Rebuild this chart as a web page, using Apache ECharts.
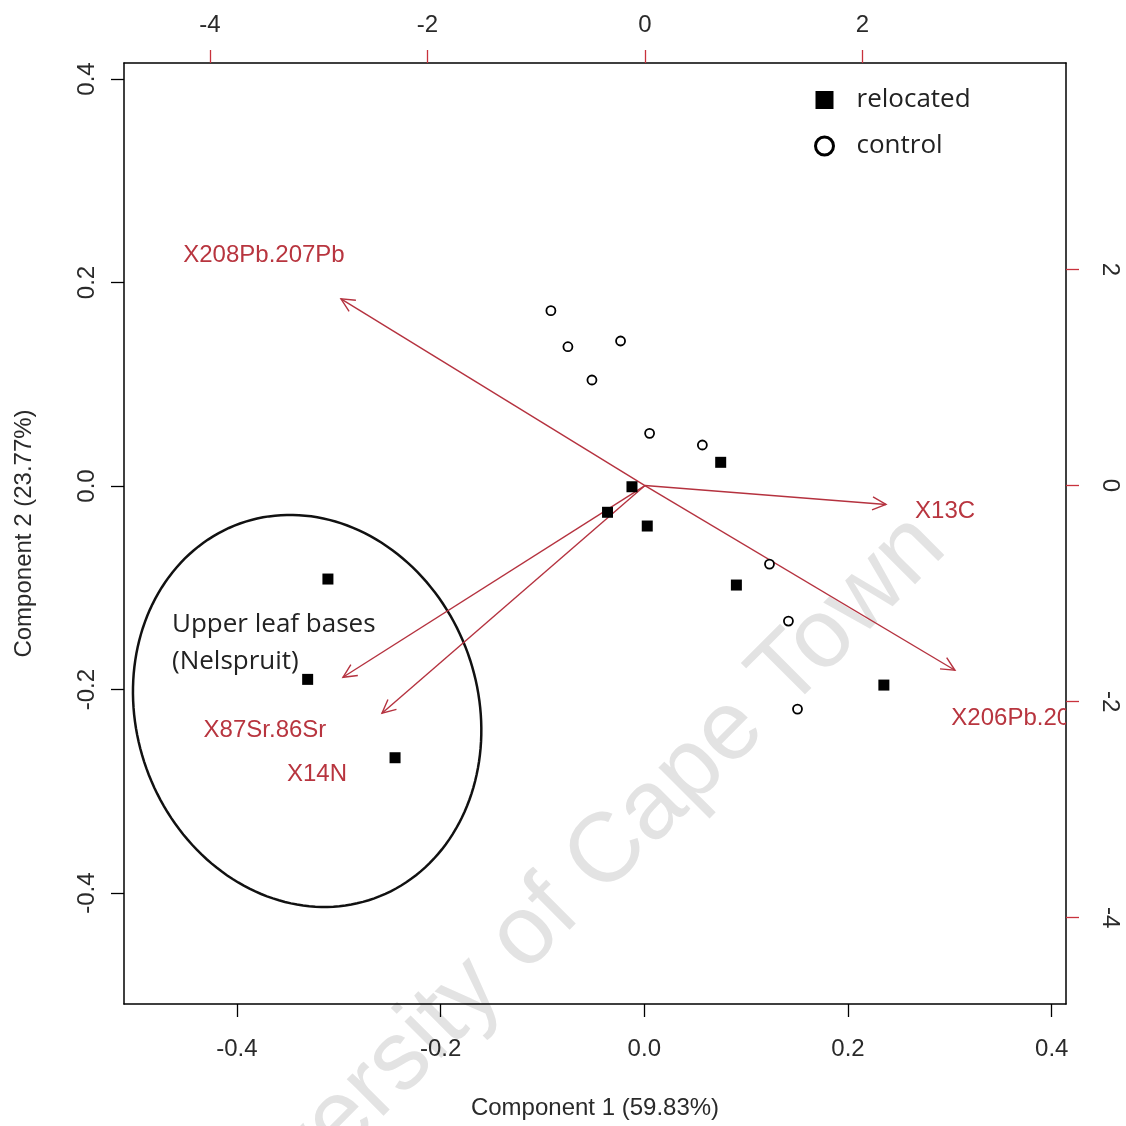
<!DOCTYPE html>
<html><head><meta charset="utf-8">
<script src="https://cdn.jsdelivr.net/npm/echarts@6/dist/echarts.min.js"></script>
<style>html,body{margin:0;padding:0;background:#fff}#c{width:1126px;height:1126px}</style>
</head><body><div id="c"></div>
<script>
// ---- data ----
const relocatedX = [-0.3106, -0.3305, -0.2447, -0.0121, -0.0361, 0.0029, 0.0750, 0.0904, 0.2352];
const relocatedY = [-0.0914, -0.1900, -0.2670, -0.0007, -0.0258, -0.0393, 0.0233, -0.0973, -0.1956];
const controlX = [-0.0917, -0.0750, -0.0233, -0.0514, 0.0052, 0.0570, 0.1229, 0.1415, 0.1504];
const controlY = [0.1723, 0.1369, 0.1425, 0.1042, 0.0518, 0.0403, -0.0767, -0.1327, -0.2192];
const loadingNames = ['X208Pb.207Pb', 'X13C', 'X206Pb.207Pb', 'X87Sr.86Sr', 'X14N'];
const loadingX = [-2.795, 2.216, 2.850, -2.777, -2.418];
const loadingY = [1.729, -0.175, -1.710, -1.775, -2.108];
const loadingLabelX = [-3.503, 2.759, 3.559, -3.494, -3.016];
const loadingLabelY = [2.133, -0.239, -2.152, -2.263, -2.678];
const bottomTicks = [-0.4, -0.2, 0, 0.2, 0.4];
const leftTicks = [-0.4, -0.2, 0, 0.2, 0.4];
const topTicks = [-4, -2, 0, 2];
const rightTicks = [-4, -2, 0, 2];
const ellipseCenter = [-0.331, -0.221];
const ellipseRadii = [0.1676, 0.1956];
const ellipseAngleDeg = [19.7];
const groupNote = 'Upper leaf bases\n(Nelspruit)';
const watermark = 'University of Cape Town';

const arrowColor = '#b5323f';
const labelColor = '#b8353f';
const tickRed = '#c8323c';
const axisFont = 'Liberation Sans';

const chart = echarts.init(document.getElementById('c'), null, {renderer: 'canvas'});

function axisBase(extra) {
  return Object.assign({
    type: 'value',
    splitLine: {show: false},
    axisLine: {onZero: false, lineStyle: {color: '#000', width: 1.5}},
  }, extra);
}
const labelStyle = {fontSize: 24, color: '#2a2a2a', fontFamily: axisFont};

const option = {
  animation: false,
  backgroundColor: '#fff',
  grid: {left: 124, right: 60, top: 63, bottom: 122},
  legend: {
    orient: 'vertical', left: 814, top: 85, padding: 0,
    itemWidth: 18, itemHeight: 18, itemGap: 16,
    textStyle: {fontSize: 26, fontFamily: 'Open Sans', color: '#222', lineHeight: 30, padding: [0, 0, 0, 18]},
    data: [
      {name: 'relocated', icon: 'rect', itemStyle: {color: '#000', opacity: 1}},
      {name: 'control', icon: 'circle', itemStyle: {color: '#fff', borderColor: '#000', borderWidth: 3, opacity: 1}}
    ]
  },
  xAxis: [
    axisBase({
      position: 'bottom', min: -0.5108, max: 0.414,
      axisTick: {customValues: bottomTicks, length: 13, lineStyle: {color: '#000', width: 1.3}},
      axisLabel: Object.assign({customValues: bottomTicks, margin: 33, formatter: v => v.toFixed(1)}, labelStyle),
      name: 'Component 1 (59.83%)', nameLocation: 'middle', nameGap: 92,
      nameTextStyle: {fontSize: 24, color: '#2a2a2a', fontFamily: axisFont}
    }),
    axisBase({
      position: 'top', min: -4.79, max: 3.871,
      axisTick: {customValues: topTicks, length: 13, lineStyle: {color: tickRed, width: 1.3}},
      axisLabel: Object.assign({customValues: topTicks, margin: 26, formatter: v => String(v)}, labelStyle)
    })
  ],
  yAxis: [
    axisBase({
      position: 'left', min: -0.509, max: 0.4157,
      axisTick: {customValues: leftTicks, length: 13, lineStyle: {color: '#000', width: 1.3}},
      axisLabel: Object.assign({customValues: leftTicks, margin: 25, rotate: 90, formatter: v => v.toFixed(1)}, labelStyle),
      name: 'Component 2 (23.77%)', nameLocation: 'middle', nameGap: 88,
      nameTextStyle: {fontSize: 24, color: '#2a2a2a', fontFamily: axisFont}
    }),
    axisBase({
      position: 'right', min: -4.80, max: 3.912,
      axisTick: {customValues: rightTicks, length: 13, lineStyle: {color: tickRed, width: 1.3}},
      axisLabel: Object.assign({customValues: rightTicks, margin: 32, rotate: -90, formatter: v => String(v)}, labelStyle)
    })
  ],
  graphic: [
    {type: 'text', x: 556, y: 905, rotation: Math.PI / 4, z: -5,
     style: {text: watermark, font: '98px "Liberation Sans"', fill: '#e3e3e3', align: 'center', verticalAlign: 'middle'}},
    {type: 'text', x: 172, y: 606, z: 5,
     style: {text: groupNote, font: '26px "Open Sans"', lineHeight: 37, fill: '#222', verticalAlign: 'top'}}
  ],
  series: [
    {
      name: 'ellipse', type: 'custom', xAxisIndex: 0, yAxisIndex: 0, silent: true,
      data: [[ellipseCenter[0], ellipseCenter[1], ellipseRadii[0], ellipseRadii[1], ellipseAngleDeg[0]]],
      renderItem: function (params, api) {
        const cx = api.value(0), cy = api.value(1), a = api.value(2), b = api.value(3);
        const phi = api.value(4) * Math.PI / 180;
        const pts = [];
        for (let k = 0; k < 180; k++) {
          const t = k / 180 * Math.PI * 2;
          const dx = a * Math.cos(phi) * Math.cos(t) - b * Math.sin(phi) * Math.sin(t);
          const dy = a * Math.sin(phi) * Math.cos(t) + b * Math.cos(phi) * Math.sin(t);
          pts.push(api.coord([cx + dx, cy + dy]));
        }
        return {type: 'polygon', shape: {points: pts}, style: {fill: 'none', stroke: '#111', lineWidth: 2.5}};
      }
    },
    {
      name: 'loadings', type: 'custom', xAxisIndex: 1, yAxisIndex: 1, clip: true, silent: true, z: 3,
      data: loadingX.map((x, i) => [x, loadingY[i], loadingLabelX[i], loadingLabelY[i]]),
      renderItem: function (params, api) {
        const o = api.coord([0, 0]);
        const t = api.coord([api.value(0), api.value(1)]);
        const l = api.coord([api.value(2), api.value(3)]);
        const ang = Math.atan2(t[1] - o[1], t[0] - o[0]);
        const hl = 15, ha = Math.PI / 7;
        const p1 = [t[0] - hl * Math.cos(ang - ha), t[1] - hl * Math.sin(ang - ha)];
        const p2 = [t[0] - hl * Math.cos(ang + ha), t[1] - hl * Math.sin(ang + ha)];
        return {type: 'group', children: [
          {type: 'line', shape: {x1: o[0], y1: o[1], x2: t[0], y2: t[1]}, style: {stroke: arrowColor, lineWidth: 1.4}},
          {type: 'polyline', shape: {points: [p1, t, p2]}, style: {stroke: arrowColor, lineWidth: 1.4, fill: null}},
          {type: 'text', style: {text: loadingNames[params.dataIndex], x: l[0], y: l[1], fill: labelColor,
            font: '24px "Liberation Sans"', align: 'center', verticalAlign: 'middle'}}
        ]};
      }
    },
    {
      name: 'relocated', type: 'scatter', xAxisIndex: 0, yAxisIndex: 0, z: 4,
      symbol: 'rect', symbolSize: 11, itemStyle: {color: '#000', opacity: 1},
      data: relocatedX.map((x, i) => [x, relocatedY[i]])
    },
    {
      name: 'control', type: 'scatter', xAxisIndex: 0, yAxisIndex: 0, z: 4,
      symbol: 'circle', symbolSize: 9, itemStyle: {color: '#fff', borderColor: '#000', borderWidth: 1.8, opacity: 1},
      data: controlX.map((x, i) => [x, controlY[i]])
    }
  ]
};
chart.setOption(option);
</script>
</body></html>
